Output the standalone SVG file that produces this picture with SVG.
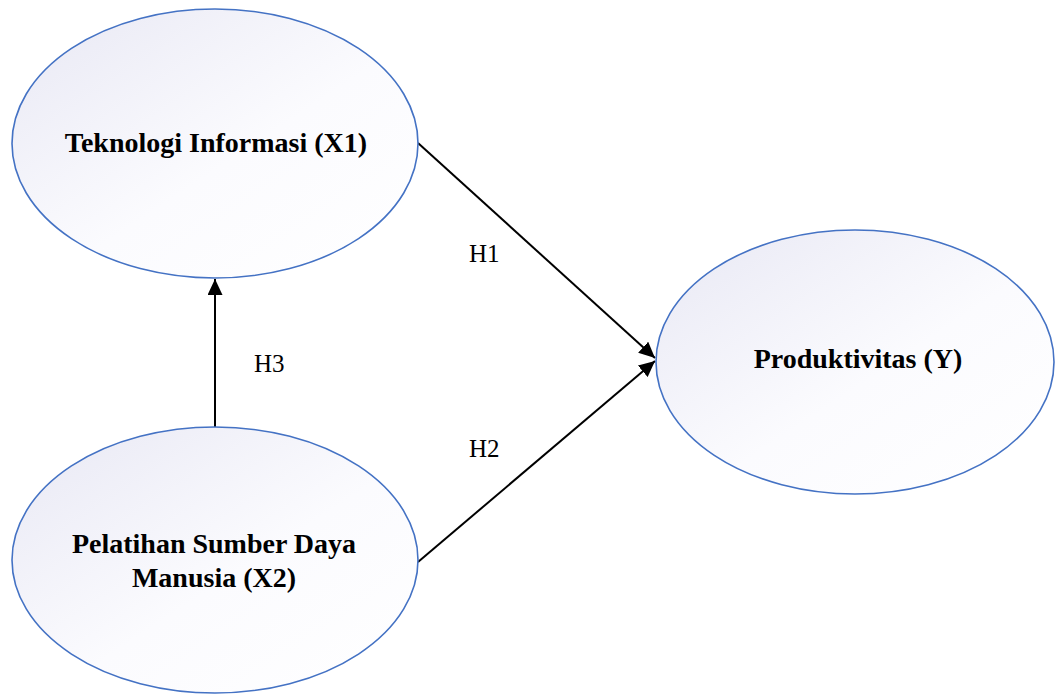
<svg xmlns="http://www.w3.org/2000/svg" width="1055" height="695" viewBox="0 0 1055 695">
<style>
.node{stroke:#4472c4;stroke-width:1.6;fill:url(#g)}
.lbl{font-family:"Liberation Serif","Times New Roman",serif;font-weight:bold;font-size:28px;fill:#000;text-anchor:middle}
.h{font-family:"Liberation Serif","Times New Roman",serif;font-size:25px;fill:#000}
.edge{stroke:#000;stroke-width:2;fill:none;marker-end:url(#ah)}
</style>
<defs>
<linearGradient id="g" x1="0" y1="0" x2="1" y2="1">
<stop offset="0" stop-color="#e8e8f4"/>
<stop offset="0.55" stop-color="#fbfbfe"/>
<stop offset="1" stop-color="#ffffff"/>
</linearGradient>
<marker id="ah" markerUnits="userSpaceOnUse" markerWidth="16" markerHeight="15" refX="16" refY="7.5" orient="auto">
<path d="M0,0 L16,7.5 L0,15 z" fill="#000"/>
</marker>
</defs>
<rect width="1055" height="695" fill="#fff"/>
<g id="connectors">
<line class="edge" x1="418" y1="143" x2="655" y2="358"/>
<line class="edge" x1="418" y1="562" x2="655" y2="361"/>
<line class="edge" x1="215" y1="428" x2="215" y2="279"/>
<text class="h" x="469" y="262">H1</text>
<text class="h" x="469" y="457">H2</text>
<text class="h" x="254" y="372">H3</text>
</g>
<g id="x1">
<ellipse class="node" cx="215" cy="143.5" rx="203" ry="134.5"/>
<text class="lbl" x="216" y="152">Teknologi Informasi (X1)</text>
</g>
<g id="x2">
<ellipse class="node" cx="215" cy="560" rx="203" ry="133"/>
<text class="lbl" x="214" y="553">Pelatihan Sumber Daya</text>
<text class="lbl" x="214" y="587">Manusia (X2)</text>
</g>
<g id="y">
<ellipse class="node" cx="855" cy="362" rx="199" ry="132"/>
<text class="lbl" x="858" y="368">Produktivitas (Y)</text>
</g>
</svg>
